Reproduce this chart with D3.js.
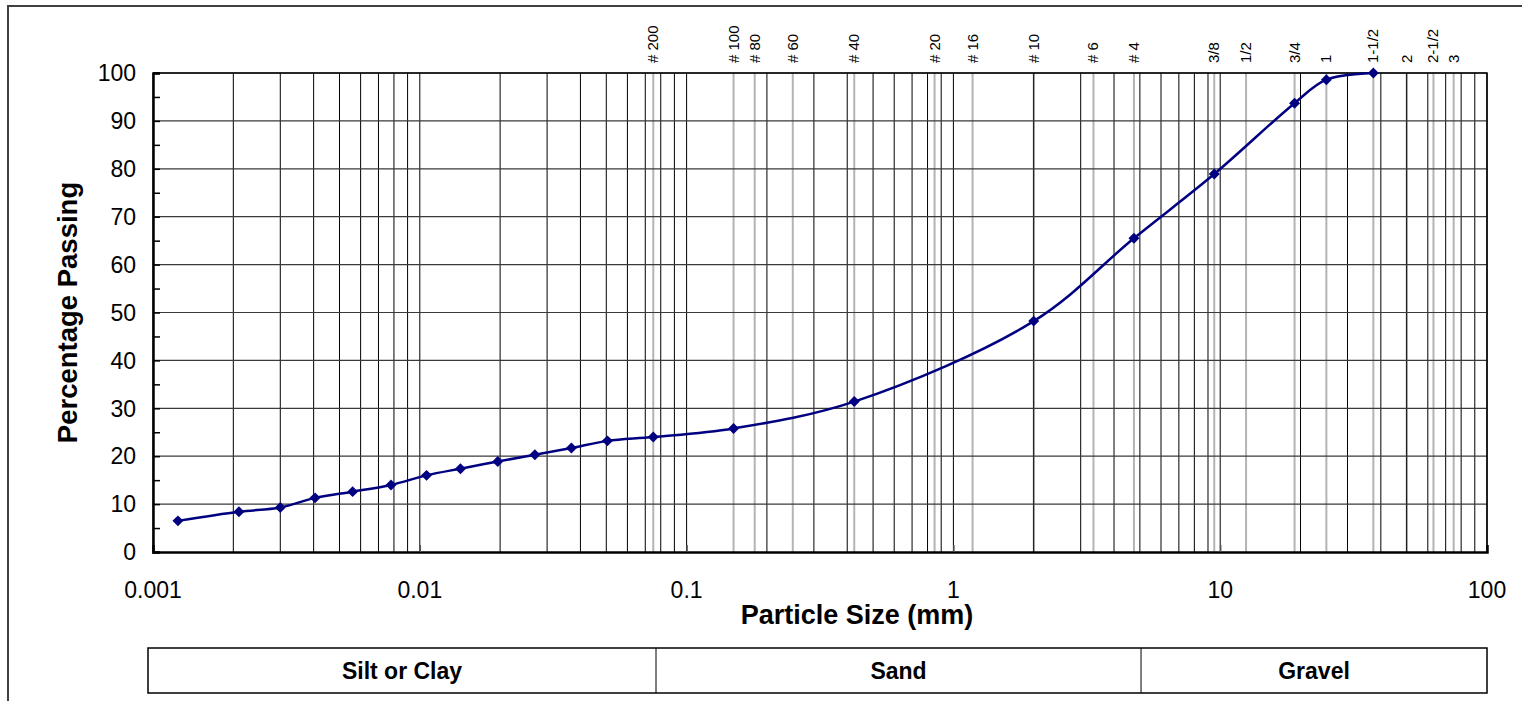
<!DOCTYPE html>
<html lang="en">
<head>
    <meta charset="UTF-8">
    <title>Particle Size Distribution</title>
    <script src="https://d3js.org/d3.v7.min.js"></script>
    <style>
        body { margin: 0; background: #fff; }
        text { font-family: "Liberation Sans", Arial, sans-serif; fill: #000; }
    </style>
</head>
<body>
    <div id="chart"></div>

    <script>
        // measured sample points (particle size in mm, % passing)
        const sizes = [0.00124, 0.0021, 0.003, 0.00405, 0.0056, 0.0078, 0.0106, 0.0142, 0.0196, 0.027, 0.037, 0.0505,
            0.075, 0.15, 0.425, 2.0, 4.75, 9.5, 19, 25, 37.5];
        const passing = [6.5, 8.4, 9.3, 11.3, 12.6, 14.0, 16.0, 17.4, 18.9, 20.3, 21.7, 23.2,
            24.0, 25.8, 31.4, 48.2, 65.5, 78.9, 93.7, 98.6, 100];

        // sieve sizes shown along the top
        const sieveLabels = ["# 200", "# 100", "# 80", "# 60", "# 40", "# 20", "# 16", "# 10", "# 6", "# 4",
            "3/8", "1/2", "3/4", "1", "1-1/2", "2", "2-1/2", "3"];
        const sieveSizes = [0.075, 0.15, 0.18, 0.25, 0.425, 0.85, 1.18, 2.0, 3.35, 4.75,
            9.5, 12.5, 19, 25, 37.5, 50, 63, 75];

        const xTicks = [0.001, 0.01, 0.1, 1, 10, 100];
        const yTicks = d3.range(0, 101, 10);

        const soilNames = ["Silt or Clay", "Sand", "Gravel"];
        const soilBounds = [0.0768, 5.05]; // strip dividers, roughly #200 and #4

        const width = 1522, height = 701;
        const plot = { left: 153, right: 1487, top: 73, bottom: 552 };

        const svg = d3.select("#chart")
            .append("svg")
            .attr("width", width)
            .attr("height", height);

        // outer frame
        svg.append("rect")
            .attr("x", 8).attr("y", 6)
            .attr("width", width).attr("height", height)
            .attr("fill", "#fff")
            .attr("stroke", "#404040")
            .attr("stroke-width", 2);

        const x = d3.scaleLog().domain([0.001, 100]).range([plot.left, plot.right]);
        const y = d3.scaleLinear().domain([0, 100]).range([plot.bottom, plot.top]);

        // minor log grid 1..9 per decade
        const minor = [];
        for (let e = -3; e < 2; e++) {
            for (let k = 1; k <= 9; k++) minor.push(k * Math.pow(10, e));
        }
        minor.push(100);

        // sieve lines (light grey, underneath)
        svg.append("g")
            .selectAll("line")
            .data(sieveSizes)
            .enter()
            .append("line")
            .attr("x1", d => x(d)).attr("x2", d => x(d))
            .attr("y1", plot.top).attr("y2", plot.bottom)
            .attr("stroke", "#b4b4b4")
            .attr("stroke-width", 2);

        svg.append("g")
            .selectAll("line")
            .data(minor)
            .enter()
            .append("line")
            .attr("x1", d => x(d)).attr("x2", d => x(d))
            .attr("y1", plot.top).attr("y2", plot.bottom)
            .attr("stroke", "#000")
            .attr("stroke-width", 1);

        svg.append("g")
            .selectAll("line")
            .data(yTicks.slice(1))
            .enter()
            .append("line")
            .attr("x1", plot.left).attr("x2", plot.right)
            .attr("y1", d => y(d)).attr("y2", d => y(d))
            .attr("stroke", "#3a3a3a")
            .attr("stroke-width", 1.2);

        // y axis with inward ticks every 5
        const yAxis = d3.axisRight(y)
            .tickValues(d3.range(0, 101, 5))
            .tickSize(7)
            .tickFormat("");
        svg.append("g")
            .attr("transform", `translate(${plot.left},0)`)
            .call(yAxis)
            .call(g => g.select(".domain").attr("stroke-width", 2.5))
            .call(g => g.selectAll(".tick line").attr("stroke-width", 1.5));

        svg.append("g")
            .selectAll("text")
            .data(yTicks)
            .enter()
            .append("text")
            .attr("x", plot.left - 17)
            .attr("y", d => y(d))
            .attr("dy", "0.36em")
            .attr("text-anchor", "end")
            .style("font-size", "23px")
            .text(d => d);

        // x axis
        const xAxis = d3.axisTop(x)
            .tickValues(xTicks.slice(1, -1))
            .tickSize(7)
            .tickFormat("");
        svg.append("g")
            .attr("transform", `translate(0,${plot.bottom})`)
            .call(xAxis)
            .call(g => g.select(".domain").attr("stroke-width", 2.5))
            .call(g => g.selectAll(".tick line").attr("stroke", "#555").attr("stroke-width", 1.5));

        svg.append("g")
            .selectAll("text")
            .data(xTicks)
            .enter()
            .append("text")
            .attr("x", d => x(d))
            .attr("y", 598)
            .attr("text-anchor", "middle")
            .style("font-size", "23px")
            .text(d => d);

        // plot border top/right
        svg.append("path")
            .attr("d", `M${plot.left},${plot.top}H${plot.right}V${plot.bottom}`)
            .attr("fill", "none")
            .attr("stroke", "#000")
            .attr("stroke-width", 1.5);

        // sieve labels
        svg.append("g")
            .selectAll("text")
            .data(sieveSizes)
            .enter()
            .append("text")
            .attr("transform", d => `translate(${x(d) + 5},63) rotate(-90)`)
            .style("font-size", "15px")
            .text((d, i) => sieveLabels[i]);

        // axis titles
        svg.append("text")
            .attr("x", 857)
            .attr("y", 624)
            .attr("text-anchor", "middle")
            .style("font-size", "27px")
            .style("font-weight", "bold")
            .text("Particle Size (mm)");

        svg.append("text")
            .attr("transform", `translate(77,${(plot.top + plot.bottom) / 2}) rotate(-90)`)
            .attr("text-anchor", "middle")
            .style("font-size", "27.5px")
            .style("font-weight", "bold")
            .text("Percentage Passing");

        // grading curve
        const points = sizes.map((s, i) => ({ size: s, pass: passing[i] }));

        svg.append("path")
            .datum(points)
            .attr("fill", "none")
            .attr("stroke", "#000080")
            .attr("stroke-width", 2.5)
            .attr("d", d3.line()
                .x(d => x(d.size))
                .y(d => y(d.pass))
                .curve(d3.curveCatmullRom.alpha(0.5)));

        svg.append("g")
            .selectAll("path")
            .data(points)
            .enter()
            .append("path")
            .attr("transform", d => `translate(${x(d.size)},${y(d.pass)}) rotate(45)`)
            .attr("d", d3.symbol(d3.symbolSquare, 60))
            .attr("fill", "#000080");

        // soil classification strip
        const stripTop = 648, stripBottom = 693, stripLeft = 148;
        const edges = [stripLeft, x(soilBounds[0]), x(soilBounds[1]), plot.right];

        svg.append("rect")
            .attr("x", stripLeft).attr("y", stripTop)
            .attr("width", plot.right - stripLeft).attr("height", stripBottom - stripTop)
            .attr("fill", "none")
            .attr("stroke", "#000")
            .attr("stroke-width", 1.5);

        svg.append("g")
            .selectAll("line")
            .data(edges.slice(1, -1))
            .enter()
            .append("line")
            .attr("x1", d => d).attr("x2", d => d)
            .attr("y1", stripTop).attr("y2", stripBottom)
            .attr("stroke", "#000")
            .attr("stroke-width", 1);

        svg.append("g")
            .selectAll("text")
            .data(soilNames)
            .enter()
            .append("text")
            .attr("x", (d, i) => (edges[i] + edges[i + 1]) / 2)
            .attr("y", (stripTop + stripBottom) / 2)
            .attr("dy", "0.36em")
            .attr("text-anchor", "middle")
            .style("font-size", "23px")
            .style("font-weight", "bold")
            .text(d => d);
    </script>
</body>
</html>
